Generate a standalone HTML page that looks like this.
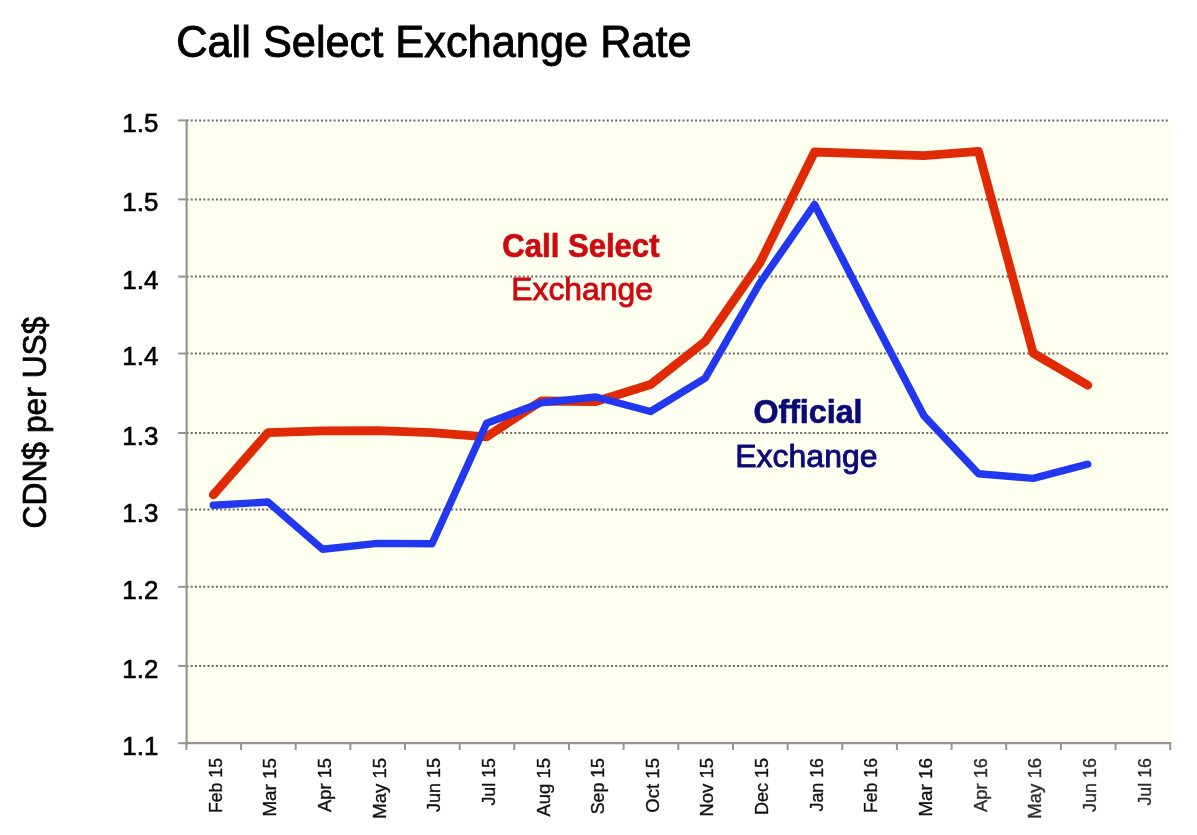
<!DOCTYPE html>
<html><head><meta charset="utf-8"><title>Call Select Exchange Rate</title>
<style>
html,body{margin:0;padding:0;background:#fff;}
body{width:1197px;height:835px;overflow:hidden;}
svg{display:block;filter:blur(0.35px);}
text{font-family:"Liberation Sans",sans-serif;}
</style></head><body>
<svg width="1197" height="835" viewBox="0 0 1197 835">
<rect x="0" y="0" width="1197" height="835" fill="#ffffff"/>
<rect x="186.4" y="123.0" width="984.2" height="620.2" fill="#fffff0"/>
<line x1="186.5" y1="120.4" x2="1168.7" y2="120.4" stroke="#6a6a6a" stroke-width="2" stroke-dasharray="2 2.203"/>
<line x1="186.5" y1="199.4" x2="1168.7" y2="199.4" stroke="#6a6a6a" stroke-width="2" stroke-dasharray="2 2.203"/>
<line x1="186.5" y1="276.6" x2="1168.7" y2="276.6" stroke="#6a6a6a" stroke-width="2" stroke-dasharray="2 2.203"/>
<line x1="186.5" y1="353.5" x2="1168.7" y2="353.5" stroke="#6a6a6a" stroke-width="2" stroke-dasharray="2 2.203"/>
<line x1="186.5" y1="433.0" x2="1168.7" y2="433.0" stroke="#6a6a6a" stroke-width="2" stroke-dasharray="2 2.203"/>
<line x1="186.5" y1="509.6" x2="1168.7" y2="509.6" stroke="#6a6a6a" stroke-width="2" stroke-dasharray="2 2.203"/>
<line x1="186.5" y1="586.8" x2="1168.7" y2="586.8" stroke="#6a6a6a" stroke-width="2" stroke-dasharray="2 2.203"/>
<line x1="186.5" y1="665.9" x2="1168.7" y2="665.9" stroke="#6a6a6a" stroke-width="2" stroke-dasharray="2 2.203"/>
<line x1="186.6" y1="119.4" x2="186.6" y2="744.2" stroke="#949494" stroke-width="2.2"/>
<line x1="185.4" y1="743.2" x2="1171.2" y2="743.2" stroke="#949494" stroke-width="2.2"/>
<line x1="178.2" y1="120.4" x2="186.4" y2="120.4" stroke="#949494" stroke-width="2"/>
<line x1="178.2" y1="199.4" x2="186.4" y2="199.4" stroke="#949494" stroke-width="2"/>
<line x1="178.2" y1="276.6" x2="186.4" y2="276.6" stroke="#949494" stroke-width="2"/>
<line x1="178.2" y1="353.5" x2="186.4" y2="353.5" stroke="#949494" stroke-width="2"/>
<line x1="178.2" y1="433.0" x2="186.4" y2="433.0" stroke="#949494" stroke-width="2"/>
<line x1="178.2" y1="509.6" x2="186.4" y2="509.6" stroke="#949494" stroke-width="2"/>
<line x1="178.2" y1="586.8" x2="186.4" y2="586.8" stroke="#949494" stroke-width="2"/>
<line x1="178.2" y1="665.9" x2="186.4" y2="665.9" stroke="#949494" stroke-width="2"/>
<line x1="178.2" y1="743.2" x2="186.4" y2="743.2" stroke="#949494" stroke-width="2"/>
<line x1="186.4" y1="743.2" x2="186.4" y2="750.0" stroke="#949494" stroke-width="2"/>
<line x1="241.1" y1="743.2" x2="241.1" y2="750.0" stroke="#949494" stroke-width="2"/>
<line x1="295.7" y1="743.2" x2="295.7" y2="750.0" stroke="#949494" stroke-width="2"/>
<line x1="350.4" y1="743.2" x2="350.4" y2="750.0" stroke="#949494" stroke-width="2"/>
<line x1="405.0" y1="743.2" x2="405.0" y2="750.0" stroke="#949494" stroke-width="2"/>
<line x1="459.7" y1="743.2" x2="459.7" y2="750.0" stroke="#949494" stroke-width="2"/>
<line x1="514.3" y1="743.2" x2="514.3" y2="750.0" stroke="#949494" stroke-width="2"/>
<line x1="569.0" y1="743.2" x2="569.0" y2="750.0" stroke="#949494" stroke-width="2"/>
<line x1="623.6" y1="743.2" x2="623.6" y2="750.0" stroke="#949494" stroke-width="2"/>
<line x1="678.3" y1="743.2" x2="678.3" y2="750.0" stroke="#949494" stroke-width="2"/>
<line x1="733.0" y1="743.2" x2="733.0" y2="750.0" stroke="#949494" stroke-width="2"/>
<line x1="787.6" y1="743.2" x2="787.6" y2="750.0" stroke="#949494" stroke-width="2"/>
<line x1="842.3" y1="743.2" x2="842.3" y2="750.0" stroke="#949494" stroke-width="2"/>
<line x1="896.9" y1="743.2" x2="896.9" y2="750.0" stroke="#949494" stroke-width="2"/>
<line x1="951.6" y1="743.2" x2="951.6" y2="750.0" stroke="#949494" stroke-width="2"/>
<line x1="1006.2" y1="743.2" x2="1006.2" y2="750.0" stroke="#949494" stroke-width="2"/>
<line x1="1060.9" y1="743.2" x2="1060.9" y2="750.0" stroke="#949494" stroke-width="2"/>
<line x1="1115.5" y1="743.2" x2="1115.5" y2="750.0" stroke="#949494" stroke-width="2"/>
<line x1="1170.2" y1="743.2" x2="1170.2" y2="750.0" stroke="#949494" stroke-width="2"/>
<text x="158.3" y="132.3" font-size="25.8" text-anchor="end" textLength="36" lengthAdjust="spacingAndGlyphs" fill="#000" stroke="#000" stroke-width="0.6">1.5</text>
<text x="158.3" y="211.3" font-size="25.8" text-anchor="end" textLength="36" lengthAdjust="spacingAndGlyphs" fill="#000" stroke="#000" stroke-width="0.6">1.5</text>
<text x="158.3" y="288.5" font-size="25.8" text-anchor="end" textLength="36" lengthAdjust="spacingAndGlyphs" fill="#000" stroke="#000" stroke-width="0.6">1.4</text>
<text x="158.3" y="365.4" font-size="25.8" text-anchor="end" textLength="36" lengthAdjust="spacingAndGlyphs" fill="#000" stroke="#000" stroke-width="0.6">1.4</text>
<text x="158.3" y="444.9" font-size="25.8" text-anchor="end" textLength="36" lengthAdjust="spacingAndGlyphs" fill="#000" stroke="#000" stroke-width="0.6">1.3</text>
<text x="158.3" y="521.5" font-size="25.8" text-anchor="end" textLength="36" lengthAdjust="spacingAndGlyphs" fill="#000" stroke="#000" stroke-width="0.6">1.3</text>
<text x="158.3" y="598.7" font-size="25.8" text-anchor="end" textLength="36" lengthAdjust="spacingAndGlyphs" fill="#000" stroke="#000" stroke-width="0.6">1.2</text>
<text x="158.3" y="677.8" font-size="25.8" text-anchor="end" textLength="36" lengthAdjust="spacingAndGlyphs" fill="#000" stroke="#000" stroke-width="0.6">1.2</text>
<text x="158.3" y="755.1" font-size="25.8" text-anchor="end" textLength="36" lengthAdjust="spacingAndGlyphs" fill="#000" stroke="#000" stroke-width="0.6">1.1</text>
<text transform="translate(221.5,758.0) rotate(-90)" font-size="18.9" text-anchor="end" textLength="55.0" lengthAdjust="spacingAndGlyphs" fill="#111" stroke="#111" stroke-width="0.35">Feb 15</text>
<text transform="translate(276.2,758.0) rotate(-90)" font-size="18.9" text-anchor="end" textLength="58.6" lengthAdjust="spacingAndGlyphs" fill="#111" stroke="#111" stroke-width="0.35">Mar 15</text>
<text transform="translate(330.8,758.0) rotate(-90)" font-size="18.9" text-anchor="end" textLength="53.9" lengthAdjust="spacingAndGlyphs" fill="#111" stroke="#111" stroke-width="0.35">Apr 15</text>
<text transform="translate(385.5,758.0) rotate(-90)" font-size="18.9" text-anchor="end" textLength="60.8" lengthAdjust="spacingAndGlyphs" fill="#111" stroke="#111" stroke-width="0.35">May 15</text>
<text transform="translate(440.2,758.0) rotate(-90)" font-size="18.9" text-anchor="end" textLength="53.9" lengthAdjust="spacingAndGlyphs" fill="#111" stroke="#111" stroke-width="0.35">Jun 15</text>
<text transform="translate(494.8,758.0) rotate(-90)" font-size="18.9" text-anchor="end" textLength="47.6" lengthAdjust="spacingAndGlyphs" fill="#111" stroke="#111" stroke-width="0.35">Jul 15</text>
<text transform="translate(549.5,758.0) rotate(-90)" font-size="18.9" text-anchor="end" textLength="58.5" lengthAdjust="spacingAndGlyphs" fill="#111" stroke="#111" stroke-width="0.35">Aug 15</text>
<text transform="translate(604.1,758.0) rotate(-90)" font-size="18.9" text-anchor="end" textLength="56.3" lengthAdjust="spacingAndGlyphs" fill="#111" stroke="#111" stroke-width="0.35">Sep 15</text>
<text transform="translate(658.8,758.0) rotate(-90)" font-size="18.9" text-anchor="end" textLength="54.7" lengthAdjust="spacingAndGlyphs" fill="#111" stroke="#111" stroke-width="0.35">Oct 15</text>
<text transform="translate(713.4,758.0) rotate(-90)" font-size="18.9" text-anchor="end" textLength="58.5" lengthAdjust="spacingAndGlyphs" fill="#111" stroke="#111" stroke-width="0.35">Nov 15</text>
<text transform="translate(768.1,758.0) rotate(-90)" font-size="18.9" text-anchor="end" textLength="57" lengthAdjust="spacingAndGlyphs" fill="#111" stroke="#111" stroke-width="0.35">Dec 15</text>
<text transform="translate(822.7,758.0) rotate(-90)" font-size="18.9" text-anchor="end" textLength="53.5" lengthAdjust="spacingAndGlyphs" fill="#111" stroke="#111" stroke-width="0.35">Jan 16</text>
<text transform="translate(877.4,758.0) rotate(-90)" font-size="18.9" text-anchor="end" textLength="55.0" lengthAdjust="spacingAndGlyphs" fill="#111" stroke="#111" stroke-width="0.35">Feb 16</text>
<text transform="translate(932.0,758.0) rotate(-90)" font-size="18.9" text-anchor="end" textLength="58.6" lengthAdjust="spacingAndGlyphs" fill="#111" stroke="#111" stroke-width="0.35">Mar 16</text>
<text transform="translate(986.7,758.0) rotate(-90)" font-size="18.9" text-anchor="end" textLength="53.9" lengthAdjust="spacingAndGlyphs" fill="#2e2e2e" stroke="#2e2e2e" stroke-width="0.35">Apr 16</text>
<text transform="translate(1041.4,758.0) rotate(-90)" font-size="18.9" text-anchor="end" textLength="60.8" lengthAdjust="spacingAndGlyphs" fill="#2e2e2e" stroke="#2e2e2e" stroke-width="0.35">May 16</text>
<text transform="translate(1096.0,758.0) rotate(-90)" font-size="18.9" text-anchor="end" textLength="53.9" lengthAdjust="spacingAndGlyphs" fill="#2e2e2e" stroke="#2e2e2e" stroke-width="0.35">Jun 16</text>
<text transform="translate(1150.7,758.0) rotate(-90)" font-size="18.9" text-anchor="end" textLength="47.6" lengthAdjust="spacingAndGlyphs" fill="#2e2e2e" stroke="#2e2e2e" stroke-width="0.35">Jul 16</text>
<text x="176.2" y="57.0" font-size="43.6" textLength="515.5" lengthAdjust="spacingAndGlyphs" fill="#000" stroke="#000" stroke-width="0.9">Call Select Exchange Rate</text>
<text transform="translate(46.0,528.5) rotate(-90)" font-size="33" textLength="212" lengthAdjust="spacingAndGlyphs" fill="#000" stroke="#000" stroke-width="0.7">CDN$ per US$</text>
<polyline points="213.3,494.8 268.0,432.6 322.6,430.9 377.3,430.6 432.0,432.6 486.6,436.8 541.3,401.0 595.9,401.5 650.6,384.5 705.2,341.4 759.9,262.8 814.5,152.0 869.2,153.8 923.9,155.6 978.5,151.3 1033.2,353.1 1087.8,385.2" fill="none" stroke="#e02a06" stroke-width="8.8" stroke-linejoin="round" stroke-linecap="round"/>
<polyline points="213.3,505.3 268.0,502.0 322.6,549.2 377.3,543.4 432.0,543.7 486.6,423.2 541.3,402.8 595.9,397.0 650.6,411.5 705.2,378.2 759.9,283.0 814.5,204.5 869.2,311.0 923.9,415.8 978.5,473.7 1033.2,478.4 1087.8,464.2" fill="none" stroke="#2238f0" stroke-width="7.4" stroke-linejoin="round" stroke-linecap="round"/>
<text x="502.3" y="257.0" font-size="33" font-weight="bold" textLength="157.2" lengthAdjust="spacingAndGlyphs" fill="#cc0a10" stroke="#cc0a10" stroke-width="0.7">Call Select</text>
<text x="511.3" y="300.1" font-size="32" textLength="141.6" lengthAdjust="spacingAndGlyphs" fill="#cc0a10" stroke="#cc0a10" stroke-width="0.9">Exchange</text>
<text x="753.4" y="423.0" font-size="33" font-weight="bold" textLength="109.1" lengthAdjust="spacingAndGlyphs" fill="#0a0a78" stroke="#0a0a78" stroke-width="0.7">Official</text>
<text x="735.3" y="466.8" font-size="32" textLength="142.2" lengthAdjust="spacingAndGlyphs" fill="#0a0a78" stroke="#0a0a78" stroke-width="0.9">Exchange</text>
</svg>
</body></html>
